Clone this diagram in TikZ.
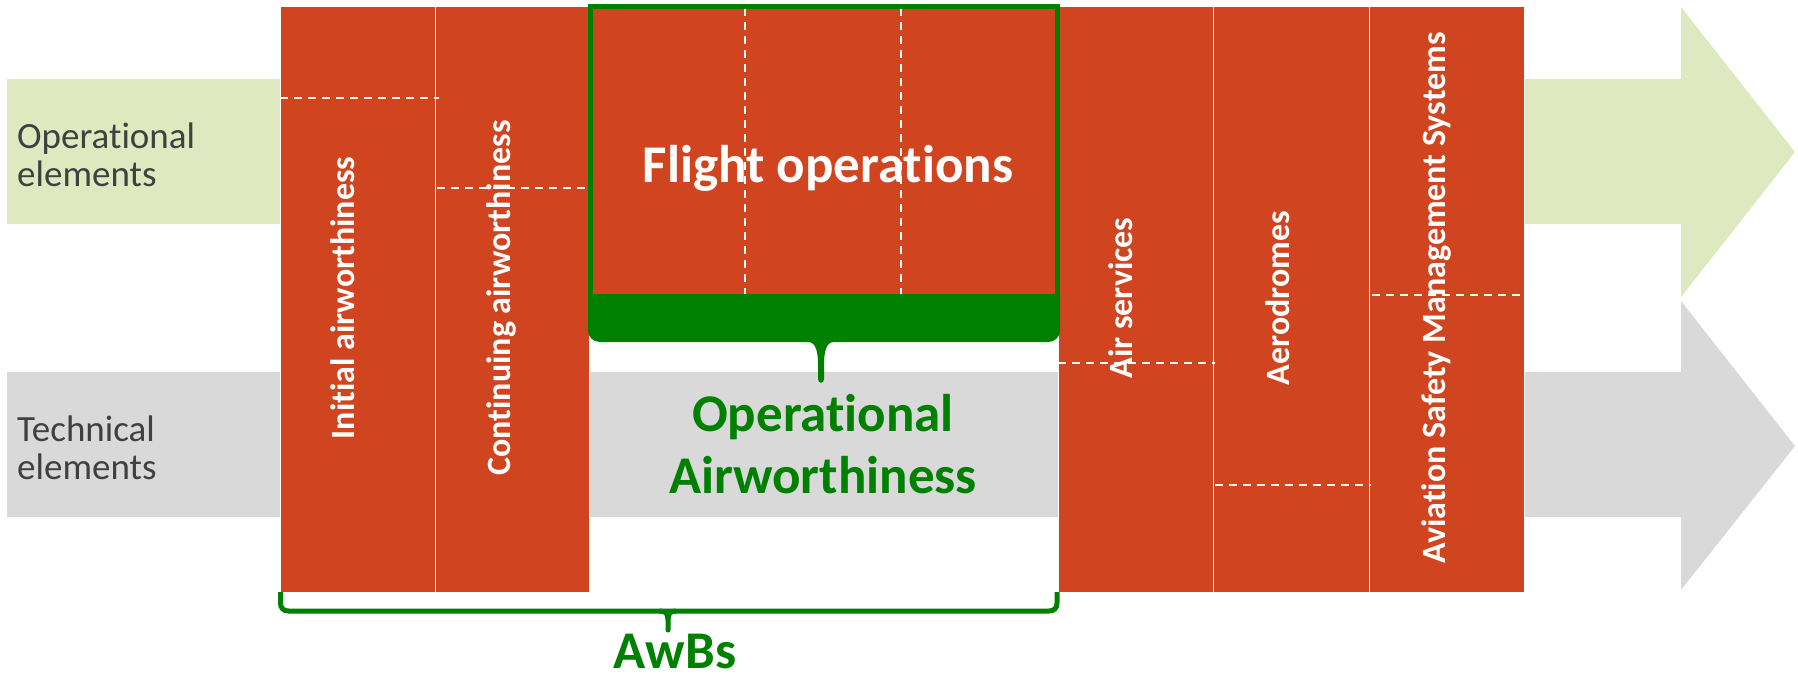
\documentclass[tikz,border=0pt]{standalone}
\usepackage{fontspec}
\setmainfont{Carlito}[Ligatures=NoCommon]
\definecolor{rust}{RGB}{208,69,32}
\definecolor{leaf}{RGB}{0,128,0}
\definecolor{paleGreen}{RGB}{223,233,192}
\definecolor{paleGray}{RGB}{217,217,217}
\definecolor{ink}{RGB}{64,64,64}
\begin{document}
\begin{tikzpicture}[x=1pt, y=-1pt,
  band text/.style={font=\fontsize{37}{38}\selectfont, text=ink, align=left, inner sep=0pt},
  col text/.style={font=\fontsize{34}{40}\selectfont\bfseries, text=white, rotate=90, anchor=base, inner sep=0pt},
  big text/.style={font=\fontsize{53}{62}\selectfont\bfseries, inner sep=0pt, anchor=base},
  split/.style={white, line width=1.5pt, dash pattern=on 8pt off 6pt},
  col/.style={fill=rust, draw=white, line width=1pt},
  brace/.style={leaf, line width=5pt}]
\useasboundingbox (0,0) rectangle (1798,678);
% the two arrows behind
\fill[paleGreen] (7,79) -- (1681,79) -- (1681,7) -- (1795,152) -- (1681,297) -- (1681,224) -- (7,224) -- cycle;
\fill[paleGray] (7,372) -- (1681,372) -- (1681,301) -- (1795,446) -- (1681,590) -- (1681,517) -- (7,517) -- cycle;
% columns
\foreach \xa/\xb in {280/435, 435/589, 1058/1213, 1213/1369, 1369/1524}
  \path[col] (\xa,6) rectangle (\xb,592);
\path[col] (589,6) rectangle (1057,296);
\draw[split] (280,98) -- (439,98);
\draw[split] (437,188) -- (587,188);
\draw[split] (745,8) -- (745,296);
\draw[split] (901,8) -- (901,296);
\draw[split] (1058,363) -- (1215,363);
\draw[split] (1215,485) -- (1371,485);
\draw[split] (1372,295) -- (1521,295);
% green frame and brace
\draw[brace] (590.5,6) rectangle (1057.5,296);
\fill[leaf] (588,294) -- (588,330) .. controls (588,337) and (593,342) .. (600,342) -- (808,342)
  .. controls (816,342) and (818,352) .. (818,365) -- (818,379) .. controls (818,384) and (824,384) .. (824,379)
  -- (824,365) .. controls (824,352) and (826,342) .. (834,342) -- (1048,342)
  .. controls (1055,342) and (1060,337) .. (1060,330) -- (1060,294) -- cycle;
\draw[brace] (280.5,592) -- (280.5,603) .. controls (280.5,608) and (283.5,611) .. (288.5,611) -- (1049,611)
  .. controls (1054,611) and (1057,608) .. (1057,603) -- (1057,592);
\draw[brace, line cap=round] (660,611) .. controls (666,611) and (668,614) .. (668,620) -- (668,630);
\draw[brace] (676,611) .. controls (670,611) and (668,614) .. (668,620);
% labels
\node[band text, anchor=base west] (opel) at (17,186) {Operational\\elements};
\node[band text, anchor=base west] (techel) at (17,479) {Technical\\elements};
\node[col text] (initaw) at (354,298) {Initial airworthiness};
\node[col text] (contaw) at (510,298) {Continuing airworthiness};
\node[col text] (airserv) at (1132,298) {Air services};
\node[col text] (aerodr) at (1289,298) {Aerodromes};
\node[col text] (asms) at (1445,298) {Aviation Safety Management Systems};
\node[big text, text=white] (flightops) at (828,182) {Flight operations};
\node[big text, text=leaf, align=center] (opaw) at (823,493) {Operational\\Airworthiness};
\node[big text, text=leaf] (awbs) at (675,668) {AwBs};
\end{tikzpicture}
\end{document}
